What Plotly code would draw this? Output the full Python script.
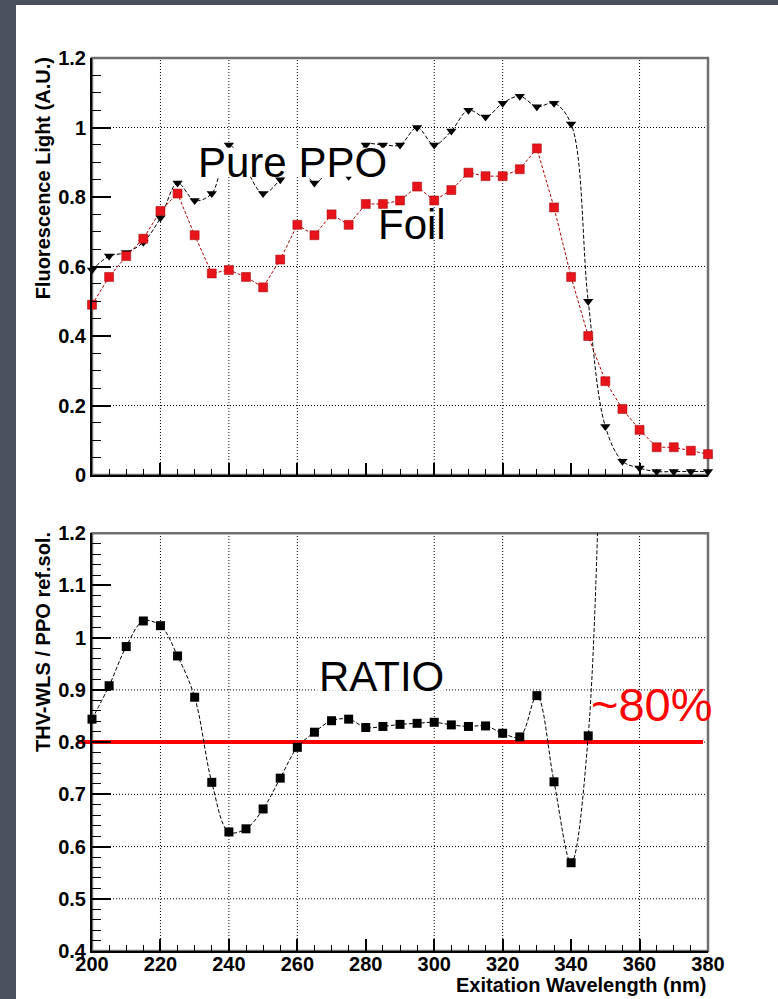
import plotly.graph_objects as go

# Excitation wavelengths (nm)
wavelength = [200, 205, 210, 215, 220, 225, 230, 235, 240, 245, 250, 255, 260,
              265, 270, 275, 280, 285, 290, 295, 300, 305, 310, 315, 320, 325,
              330, 335, 340, 345, 350, 355, 360, 365, 370, 375, 380]

# Fluorescence light (A.U.) of the foil sample
foil = [0.49, 0.57, 0.63, 0.68, 0.76, 0.81, 0.69, 0.58, 0.59, 0.57, 0.54, 0.62, 0.72,
        0.69, 0.75, 0.72, 0.78, 0.78, 0.79, 0.83, 0.79, 0.82, 0.87, 0.86, 0.86, 0.88,
        0.94, 0.77, 0.57, 0.40, 0.27, 0.19, 0.13, 0.08, 0.08, 0.07, 0.06]

# Fluorescence light (A.U.) of the pure PPO reference solution
pure_ppo = [0.59, 0.63, 0.64, 0.67, 0.74, 0.84, 0.79, 0.81, 0.95, 0.88, 0.81, 0.85, 0.91,
            0.84, 0.88, 0.86, 0.95, 0.95, 0.95, 1.00, 0.95, 0.99, 1.05, 1.03, 1.07, 1.09,
            1.06, 1.07, 1.01, 0.50, 0.14, 0.04, 0.02, 0.01, 0.01, 0.01, 0.01]

# THV-WLS / PPO ratio
ratio_wl = [200, 205, 210, 215, 220, 225, 230, 235, 240, 245, 250, 255, 260, 265, 270,
            275, 280, 285, 290, 295, 300, 305, 310, 315, 320, 325, 330, 335, 340, 345, 350]
ratio = [0.844, 0.908, 0.983, 1.032, 1.023, 0.965, 0.886, 0.723, 0.628, 0.634, 0.672,
         0.731, 0.790, 0.819, 0.841, 0.844, 0.828, 0.830, 0.834, 0.836, 0.838, 0.833,
         0.830, 0.831, 0.817, 0.810, 0.889, 0.724, 0.569, 0.812, 1.900]

reference_level = 0.8

x_range = [200, 380]
top_range = [0, 1.2]
bottom_range = [0.4, 1.2]

grid_x = [220, 240, 260, 300, 320, 360]
grid_y_top = [0.2, 0.6, 1.0]
grid_y_bottom = [0.5, 0.6, 0.7, 0.8, 0.9, 1.0]

FONT = "Liberation Sans"
SLIDE_BG = "#4b505f"
GRID = dict(color="black", width=1, dash="1px,2px")

fig = go.Figure()

# --- top panel: fluorescence spectra ---
fig.add_trace(go.Scatter(
    x=wavelength, y=pure_ppo, mode="lines+markers", name="Pure PPO",
    line=dict(color="black", width=1, dash="4px,2px", shape="spline", smoothing=1.0),
    marker=dict(symbol="triangle-down", size=9, color="black"),
    cliponaxis=False, xaxis="x", yaxis="y"))
fig.add_trace(go.Scatter(
    x=wavelength, y=foil, mode="lines+markers", name="Foil",
    line=dict(color="#b00000", width=1, dash="3px,2px"),
    marker=dict(symbol="square", size=9, color="#e8141c",
                line=dict(color="#a00000", width=0.5)),
    cliponaxis=False, xaxis="x", yaxis="y"))

# --- bottom panel: ratio ---
fig.add_trace(go.Scatter(
    x=ratio_wl, y=ratio, mode="lines",
    line=dict(color="black", width=1, dash="4px,2px", shape="spline", smoothing=1.0),
    xaxis="x2", yaxis="y2", showlegend=False))
shown = [(w, r) for w, r in zip(ratio_wl, ratio) if bottom_range[0] <= r <= bottom_range[1]]
fig.add_trace(go.Scatter(
    x=[w for w, _ in shown], y=[r for _, r in shown], mode="markers",
    marker=dict(symbol="square", size=9, color="black"),
    cliponaxis=False, xaxis="x2", yaxis="y2", showlegend=False))

shapes = []
# white slide panel
shapes.append(dict(type="rect", xref="paper", yref="paper",
                   x0=-0.1234, x1=1.12, y0=-0.06, y1=1.0594,
                   fillcolor="white", line=dict(width=0), layer="below"))
# dotted grid
for xa, ya, gy in (("x", "y", grid_y_top), ("x2", "y2", grid_y_bottom)):
    for gx in grid_x:
        shapes.append(dict(type="line", xref=xa, yref=f"{ya} domain", x0=gx, x1=gx,
                           y0=0, y1=1, line=GRID, layer="below"))
    for g in gy:
        shapes.append(dict(type="line", xref=f"{xa} domain", yref=ya, x0=0, x1=1,
                           y0=g, y1=g, line=GRID, layer="below"))
    # grey frame
    shapes.append(dict(type="rect", xref=f"{xa} domain", yref=f"{ya} domain",
                       x0=0, x1=1, y0=0, y1=1, line=dict(color="#6f6f6f", width=2.5),
                       layer="below"))
# ~80% reference line
shapes.append(dict(type="line", xref="x2 domain", yref="y2", x0=-0.023, x1=0.992,
                   y0=reference_level, y1=reference_level,
                   line=dict(color="#ff0000", width=4), layer="below"))
# white backing behind the big labels (tight to the glyphs)
shapes.append(dict(type="rect", xref="x", yref="y", x0=230.5, x1=285.5, y0=0.858, y1=0.942,
                   fillcolor="white", line=dict(width=0), layer="above"))
shapes.append(dict(type="rect", xref="x2", yref="y2", x0=265.8, x1=303.0, y0=0.899, y1=0.955,
                   fillcolor="white", line=dict(width=0), layer="above"))

tickfont = dict(family=FONT, size=20, color="black", weight="bold")
common_x = dict(range=x_range, showgrid=False, zeroline=False, showline=True,
                linecolor="black", linewidth=2, ticks="inside", dtick=20, tick0=200,
                ticklen=12, tickwidth=1.5, tickcolor="black", ticklabelstandoff=-6,
                minor=dict(ticks="inside", dtick=5, ticklen=6, tickwidth=1.2,
                           tickcolor="black", showgrid=False),
                tickfont=tickfont)
common_y = dict(showgrid=False, zeroline=False, showline=True, linecolor="black",
                linewidth=2, ticks="inside", ticklen=19, tickwidth=1.5,
                tickcolor="black", tickfont=tickfont)

fig.update_layout(
    width=778, height=999,
    margin=dict(l=92, r=70, t=58, b=48),
    paper_bgcolor=SLIDE_BG, plot_bgcolor="white",
    showlegend=False,
    xaxis=dict(common_x, domain=[0, 1], anchor="y", showticklabels=False),
    yaxis=dict(common_y, domain=[0.533, 1], anchor="x", range=top_range, dtick=0.2,
               minor=dict(ticks="inside", dtick=0.05, ticklen=9, tickwidth=1.2,
                          tickcolor="black", showgrid=False)),
    xaxis2=dict(common_x, domain=[0, 1], anchor="y2"),
    yaxis2=dict(common_y, domain=[0, 0.4678], anchor="x2", range=bottom_range, dtick=0.1,
                minor=dict(ticks="inside", dtick=0.02, ticklen=9, tickwidth=1.2,
                           tickcolor="black", showgrid=False)),
    shapes=shapes,
)

title_font = dict(family=FONT, size=20, color="black", weight="bold")
label_font = dict(family=FONT, size=42, color="black")
annotations = [
    dict(text="Fluorescence Light (A.U.)", textangle=-90, xref="paper", yref="paper",
         x=-0.0795, y=1.003, xanchor="center", yanchor="top", showarrow=False,
         font=title_font),
    dict(text="THV-WLS / PPO ref.sol.", textangle=-90, xref="paper", yref="paper",
         x=-0.0795, y=0.4714, xanchor="center", yanchor="top", showarrow=False,
         font=title_font),
    dict(text="Exitation Wavelength (nm)", xref="paper", yref="paper",
         x=1.0, y=-0.038, xanchor="right", yanchor="middle", showarrow=False,
         font=dict(family=FONT, size=20, color="black", weight="bold")),
    dict(text="Pure PPO", xref="x", yref="y", x=230.5, y=0.90, xanchor="left",
         yanchor="middle", showarrow=False, font=label_font),
    dict(text="Foil", xref="x", yref="y", x=283.0, y=0.72, xanchor="left",
         yanchor="middle", showarrow=False, font=label_font),
    dict(text="RATIO", xref="x2", yref="y2", x=265.8, y=0.925, xanchor="left",
         yanchor="middle", showarrow=False, font=label_font),
    dict(text="~80%", xref="x2", yref="y2", x=345.2, y=0.872, xanchor="left",
         yanchor="middle", showarrow=False,
         font=dict(family=FONT, size=47, color="#ff0000")),
]
fig.update_layout(annotations=annotations)

fig.write_html("out.html")
